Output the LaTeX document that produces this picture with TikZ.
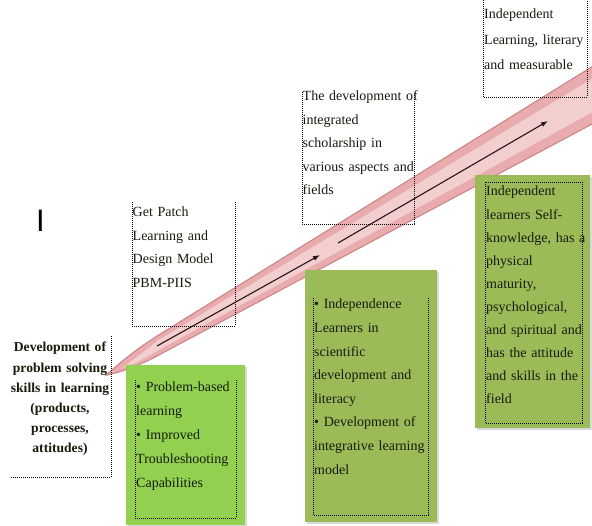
\documentclass[tikz,border=0pt]{standalone}
\usepackage{fontspec}
\setmainfont{Liberation Serif}
\newfontfamily\sansI{Liberation Sans}
\usetikzlibrary{arrows.meta}
\definecolor{bandfill}{RGB}{232,172,174}
\definecolor{bandedge}{RGB}{205,128,131}
\definecolor{bandlight}{RGB}{243,206,206}
\definecolor{limegreen}{RGB}{146,208,80}
\definecolor{olivegreen}{RGB}{155,187,89}
\definecolor{txt}{RGB}{22,28,12}
\tikzset{
  dotline/.style={draw=black, line width=0.7pt, dash pattern=on 0.9pt off 1.1pt},
  bodytext/.style={anchor=base west, inner sep=0pt, align=left, text width=#1,
    font=\fontsize{14}{23.5}\selectfont, text=txt},
  greenbox/.style={fill=#1, draw=none},
  shadowbox/.style={fill=black!15, draw=none},
  flowline/.style={draw={rgb,255:red,40;green,20;blue,20}, line width=1.1pt,
    -{Latex[length=7pt,width=5pt]}}
}
\begin{document}
\begin{tikzpicture}[x=1pt,y=-1pt]
\useasboundingbox (0,0) rectangle (592,526);
\clip (0,0) rectangle (592,526);
\fill[white] (0,0) rectangle (592,526);

% band
\coordinate (tip) at (106,375.3);
\filldraw[fill=bandfill, draw=bandedge, line width=1pt]
  (tip) .. controls (125,358) and (140,347) .. (157,336) -- (610,55.6)
  -- (610,114.5) -- (157,356) .. controls (140,365) and (125,371) .. (tip) -- cycle;
\fill[bandlight]
  (122,368) .. controls (135,358) and (148,349) .. (157,341) -- (610,68)
  -- (610,102.5) -- (157,351) .. controls (145,358) and (135,364) .. (122,368) -- cycle;

% arrows along the band
\coordinate (a1s) at (157,346);
\coordinate (a1e) at (320,255);
\coordinate (a2s) at (338,243);
\coordinate (a2e) at (548,121);
\draw[flowline] (a1s) -- (a1e);
\draw[flowline] (a2s) -- (a2e);

% stray I
\node[anchor=base, inner sep=0pt, font=\sansI\fontsize{31}{31}\selectfont] (cursor) at (40.5,232) {I};

% left box
\node[anchor=base, inner sep=0pt, align=center, text width=112pt,
      font=\bfseries\fontsize{13.6}{20.2}\selectfont, text=txt] (start) at (60,352)
  {Development of\\problem solving\\skills in learning\\(products,\\processes,\\attitudes)};
\draw[dotline] (111,336) -- (111,477) -- (10,477);

% Get Patch box
\draw[dotline] (132,202) -- (132,326) -- (235,326) -- (235,202);
\node[bodytext=110pt] (getpatch) at (132.5,217)
  {Get Patch\\Learning and\\Design Model\\PBM-PIIS};

% development box
\draw[dotline] (302,92) -- (302,224) -- (414,224) -- (414,92);
\node[bodytext=120pt] (devint) at (302.5,101)
  {The development of\\integrated\\scholarship in\\various aspects and\\fields};

% top right box
\draw[dotline] (483,-2) -- (483,97) -- (587,97) -- (587,-2);
\node[bodytext=110pt, font=\fontsize{14}{25.5}\selectfont] (indeplit) at (484,19)
  {Independent\\Learning, literary\\and measurable};

% green box 1
\fill[shadowbox] (128,367) rectangle (247,527);
\fill[greenbox=limegreen] (126,365) rectangle (245,525);
\draw[dotline] (135,380) -- (135,518) -- (236,518) -- (236,380);
\node[bodytext=110pt, font=\fontsize{14}{24}\selectfont] (pbl) at (136,392)
  {• Problem-based\\learning\\• Improved\\Troubleshooting\\Capabilities};

% green box 2
\fill[shadowbox] (307,272) rectangle (439,524);
\fill[greenbox=olivegreen] (305,270) rectangle (437,522);
\draw[dotline] (313,298) -- (313,515) -- (428,515) -- (428,298);
\node[bodytext=120pt, font=\fontsize{14}{23.6}\selectfont] (indsci) at (314,309)
  {• Independence\\Learners in\\scientific\\development and\\literacy\\• Development of\\integrative learning\\model};

% green box 3
\fill[shadowbox] (477,177) rectangle (592,430);
\fill[greenbox=olivegreen] (475,175) rectangle (590,428);
\draw[dotline] (485,182) rectangle (582,423);
\node[bodytext=110pt, font=\fontsize{14}{23.1}\selectfont] (indself) at (486,196)
  {Independent\\learners Self-\\knowledge, has a\\physical\\maturity,\\psychological,\\and spiritual and\\has the attitude\\and skills in the\\field};
\end{tikzpicture}
\end{document}
